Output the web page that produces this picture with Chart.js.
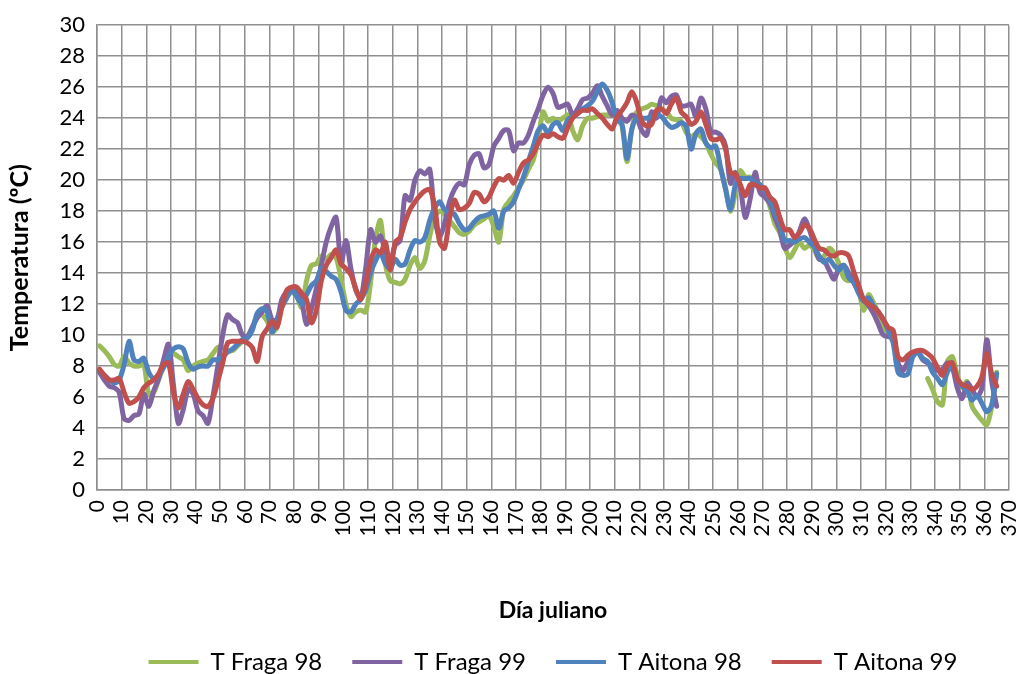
<!DOCTYPE html>
<html>
<head>
<meta charset="utf-8">
<script src="https://cdn.jsdelivr.net/npm/chart.js@4"></script>
<style>
  html, body { margin: 0; padding: 0; background: #ffffff; }
  #wrap { width: 1019px; height: 674px; }
</style>
</head>
<body>
<div id="wrap"><canvas id="tempChart" width="1019" height="674"></canvas></div>
<script>
// Día juliano (every second day)
const days = [
  1, 3, 5, 7, 9, 11, 13, 15, 17, 19,
  21, 23, 25, 27, 29, 31, 33, 35, 37, 39,
  41, 43, 45, 47, 49, 51, 53, 55, 57, 59,
  61, 63, 65, 67, 69, 71, 73, 75, 77, 79,
  81, 83, 85, 87, 89, 91, 93, 95, 97, 99,
  101, 103, 105, 107, 109, 111, 113, 115, 117, 119,
  121, 123, 125, 127, 129, 131, 133, 135, 137, 139,
  141, 143, 145, 147, 149, 151, 153, 155, 157, 159,
  161, 163, 165, 167, 169, 171, 173, 175, 177, 179,
  181, 183, 185, 187, 189, 191, 193, 195, 197, 199,
  201, 203, 205, 207, 209, 211, 213, 215, 217, 219,
  221, 223, 225, 227, 229, 231, 233, 235, 237, 239,
  241, 243, 245, 247, 249, 251, 253, 255, 257, 259,
  261, 263, 265, 267, 269, 271, 273, 275, 277, 279,
  281, 283, 285, 287, 289, 291, 293, 295, 297, 299,
  301, 303, 305, 307, 309, 311, 313, 315, 317, 319,
  321, 323, 325, 327, 329, 331, 333, 335, 337, 339,
  341, 343, 345, 347, 349, 351, 353, 355, 357, 359,
  361, 363, 365
];

const fraga98 = [
  9.3, 9.0, 8.6, 8.1, 8.0, 8.6, 8.2, 8.0, 8.0, 8.1,
  6.2, 6.3, 7.1, 8.0, 8.5, 8.8, 8.6, 8.4, 7.7, 8.0,
  8.2, 8.3, 8.4, 8.8, 9.2, 9.2, 9.0, 9.0, 9.3, 9.6,
  9.9, 10.5, 11.2, 11.3, 10.9, 10.2, 10.5, 12.2, 12.5, 12.75,
  12.5, 11.8, 13.5, 14.5, 14.6, 15.1, 14.9, 15.2, 15.0, 13.6,
  12.0, 11.2, 11.5, 11.6, 11.5, 13.4, 16.2, 17.4, 14.6, 13.5,
  13.4, 13.3, 13.6, 14.5, 15.0, 14.3, 14.8, 16.4, 17.6, 18.0,
  17.8, 17.4, 17.0, 16.6, 16.5, 16.7, 17.1, 17.3, 17.5, 17.7,
  17.0, 16.0, 18.1, 18.6, 19.0, 19.5, 20.0, 20.7, 21.3, 22.6,
  24.4, 23.8, 24.0, 23.8, 24.0, 24.2, 23.2, 22.6, 23.5, 24.0,
  24.0, 24.1, 24.2, 24.2, 24.3, 24.0, 23.5, 21.2, 23.3, 24.4,
  24.6, 24.7, 24.9, 24.8, 24.6, 24.4, 24.0, 23.9, 23.8, 23.1,
  22.8, 23.0, 22.8, 22.4, 21.7, 21.1, 20.7, 19.5, 18.0, 19.2,
  20.6, 20.2, 20.2, 20.0, 19.7, 19.2, 18.3, 17.2, 16.6, 15.7,
  15.0, 15.5, 16.0, 15.6, 15.8, 15.5, 14.9, 15.1, 15.6, 15.3,
  14.6, 13.7, 13.5, 13.8, 13.0, 11.6, 12.6, 12.1, 11.4, 10.6,
  10.1, 9.6, null, null, null, null, null, null, 7.2, 6.5,
  5.7, 5.5, 8.3, 8.6, 7.4, 6.6, 7.0, 5.4, 4.9, 4.5,
  4.2, 5.4, 7.6
];

const fraga99 = [
  7.6, 7.1, 6.7, 6.6, 6.3, 4.6, 4.5, 4.8, 4.9, 6.2,
  5.4, 6.4, 7.2, 8.4, 9.4, 6.8, 4.3, 5.2, 6.5, 6.2,
  5.1, 4.8, 4.3, 6.0, 8.0, 10.0, 11.3, 11.0, 10.8, 10.0,
  9.9, 10.5, 11.1, 11.5, 11.9, 11.0, 11.0, 12.3, 12.8, 13.0,
  12.8, 12.2, 10.7, 11.7, 13.0, 14.5, 16.0, 17.0, 17.6, 14.6,
  16.1, 14.3, 12.9, 12.4, 14.3, 16.8, 16.0, 16.4, 15.4, 14.8,
  15.8, 16.1, 19.0, 18.7, 20.0, 20.6, 20.4, 20.7, 17.6, 16.4,
  17.2, 18.6, 19.4, 19.8, 19.7, 21.0, 21.6, 21.7, 20.8, 21.0,
  22.2, 22.7, 23.2, 23.2, 21.9, 22.4, 22.4, 22.9, 23.8, 24.6,
  25.5, 26.0, 25.6, 24.7, 24.8, 24.9, 24.2, 24.6, 25.2, 25.3,
  25.6, 26.1, 25.4, 24.8, 24.2, 24.5, 24.0, 23.8, 24.2, 24.0,
  23.2, 22.9, 24.4, 24.0, 25.3, 25.0, 25.4, 25.5, 24.8, 24.8,
  24.9, 24.1, 25.3, 24.6, 23.1, 23.1, 22.9, 22.2, 19.8, 20.5,
  19.5, 17.6, 18.8, 20.5, 19.2, 18.9, 18.5, 17.6, 16.8, 15.6,
  15.8, 16.1, 16.7, 17.5, 16.8, 15.8, 14.9, 14.8, 14.2, 13.6,
  14.3, 14.5, 14.0, 13.4, 12.8, 12.3, 11.9, 11.4, 10.7, 10.0,
  9.9, 9.9, 8.2, 7.7, 8.3, 8.8, 8.9, 8.4, 8.2, 8.0,
  7.7, 7.8, 8.2, 7.9, 6.6, 5.9, 6.9, 6.5, 6.0, 6.6,
  9.7, 7.0, 5.4
];

const aitona98 = [
  7.7, 7.4, 7.1, 6.9, 7.1, 8.1, 9.6, 8.4, 8.3, 8.5,
  7.6, 7.2, 7.4, 7.9, 8.6, 9.1, 9.25, 9.1, 8.2, 7.8,
  7.95, 8.0, 8.0, 8.4, 8.4, 8.6, 8.9, 9.1, 9.4, 9.7,
  9.8, 10.3, 11.4, 11.7, 11.5, 10.2, 11.0, 11.8, 12.4, 12.9,
  12.5, 12.0, 12.6, 13.2, 13.5, 14.3, 14.1, 13.8, 13.6, 12.8,
  11.6, 11.5, 12.0, 12.3, 12.9, 14.0, 14.8, 15.3, 14.6, 14.3,
  14.9, 14.5, 14.6, 15.5, 16.1, 16.0, 16.3, 17.4, 18.2, 18.6,
  18.1, 17.9, 17.8, 17.2, 16.8, 16.9, 17.3, 17.6, 17.7, 17.8,
  18.0, 16.9, 18.0, 18.2, 18.6, 19.4, 20.2, 21.2, 22.2, 23.2,
  23.5, 23.0, 23.6, 23.7, 23.2, 23.9, 24.1, 24.3, 24.6, 24.8,
  25.1, 25.7, 26.2, 25.8, 25.0, 23.9, 23.6, 21.4, 23.3, 24.0,
  24.0, 24.0, 24.1, 24.2, 24.1, 23.7, 23.4, 23.5, 23.7, 23.5,
  22.0, 23.0, 23.3, 22.4, 22.1, 22.2, 20.8, 19.4, 18.1, 19.7,
  20.1, 20.1, 20.1, 19.8, 19.7, 19.3, 18.7, 17.9, 17.2, 16.1,
  16.1, 16.0, 16.2, 16.3, 16.0, 15.7, 15.1, 14.7, 14.9, 14.5,
  14.2, 14.5, 13.7, 13.4, 12.7, 12.2, 12.4, 11.9, 11.5, 11.0,
  10.3, 9.5, 7.6, 7.4, 7.5, 8.6, 8.9, 8.5, 8.3, 7.6,
  7.2, 6.8, 7.6, 8.1, 7.2, 6.7, 6.4, 5.8, 6.1, 5.6,
  5.05, 5.5, 7.5
];

const aitona99 = [
  7.8, 7.4, 7.1, 7.1, 7.2, 6.3, 5.6, 5.7, 6.0, 6.6,
  6.9, 7.1, 7.5, 8.1, 8.2, 6.3, 5.3, 6.2, 7.0, 6.5,
  5.9, 5.5, 5.4, 5.9, 7.0, 8.2, 9.5, 9.6, 9.6, 9.6,
  9.5, 9.2, 8.3, 9.9, 10.4, 10.9, 10.5, 11.8, 12.9, 13.1,
  13.1, 12.7, 12.3, 10.8, 11.6, 13.5, 14.5, 15.0, 15.5, 14.6,
  14.3, 13.9, 13.0, 12.3, 13.3, 14.8, 15.5, 15.3, 16.0, 14.2,
  16.0, 16.3, 17.3, 18.1, 18.6, 19.0, 19.3, 19.4, 18.3, 16.0,
  15.6, 17.5, 18.7, 18.1, 18.2, 18.5, 19.2, 19.1, 18.6, 18.9,
  19.6, 20.1, 20.0, 20.3, 19.8, 20.5, 21.1, 21.3, 21.7, 22.4,
  22.9, 22.8, 23.0, 22.8, 22.7, 23.4, 24.0, 24.3, 24.5, 24.5,
  24.6, 24.3, 24.0, 23.6, 23.3, 24.1, 24.5, 25.0, 25.7, 25.0,
  23.8, 23.5, 23.6, 24.5, 24.6, 24.3, 24.9, 25.3, 24.4, 24.1,
  23.6, 23.8, 24.4, 23.6, 22.7, 22.6, 22.7, 22.0, 20.5, 20.4,
  19.7, 19.0, 19.7, 19.7, 19.5, 19.5, 18.9, 18.6, 17.6, 16.8,
  16.8, 16.3, 16.6, 17.1, 16.9, 16.2, 15.6, 15.5, 15.2, 15.1,
  15.3, 15.3, 15.1, 14.1, 13.2, 12.3, 12.0, 11.8, 11.5, 11.0,
  10.5, 10.3, 8.6, 8.4, 8.7, 8.9, 9.0, 9.0, 8.8, 8.5,
  7.9, 7.4, 8.1, 8.2, 7.2, 6.8, 6.7, 6.5, 6.7, 7.3,
  8.8, 7.5, 6.7
];

const seriesLabels = ['T Fraga 98', 'T Fraga 99', 'T Aitona 98', 'T Aitona 99'];
const seriesColors = ['#9bbb59', '#8064a2', '#4f81bd', '#c0504d'];

function toPoints(values) {
  return days.map((d, i) => ({ x: d, y: values[i] }));
}

const gridColor = '#8f8f8f';
const fontFamily = 'Lato, "Open Sans", sans-serif';

// push the legend down to the foot of the picture
const legendNudge = {
  id: 'legendNudge',
  afterLayout(chart) {
    if (chart.legend) {
      chart.legend.top += 10;
      chart.legend.bottom += 10;
    }
  }
};

const ctx = document.getElementById('tempChart').getContext('2d');
new Chart(ctx, {
  type: 'line',
  data: {
    datasets: [fraga98, fraga99, aitona98, aitona99].map((vals, i) => ({
      label: seriesLabels[i],
      data: toPoints(vals),
      borderColor: seriesColors[i],
      backgroundColor: seriesColors[i],
      order: 3 - i   // red drawn on top, green at the bottom
    }))
  },
  options: {
    responsive: false,
    animation: false,
    spanGaps: false,
    elements: {
      point: { radius: 0 },
      line: { borderWidth: 5, tension: 0.3, borderCapStyle: 'round', borderJoinStyle: 'round' }
    },
    layout: { padding: { left: 0, right: 10, top: 22, bottom: 0 } },
    scales: {
      x: {
        type: 'linear',
        min: 0,
        max: 370,
        ticks: {
          stepSize: 10,
          autoSkip: false,
          maxRotation: 90,
          minRotation: 90,
          padding: 10,
          color: '#000',
          font: { family: fontFamily, size: 21 }
        },
        grid: { color: gridColor, lineWidth: 1.5, drawTicks: false },
        border: { color: gridColor, width: 1.5 },
        title: {
          display: true,
          text: 'Día juliano',
          color: '#000',
          font: { family: fontFamily, size: 23, weight: 'bold' },
          padding: { top: 0, bottom: -14 }
        },
        afterFit(scale) {
          scale.height = 120;
          scale.paddingLeft = 0;
          scale.paddingRight = 0;
        }
      },
      y: {
        min: 0,
        max: 30,
        ticks: {
          stepSize: 2,
          padding: 12,
          color: '#000',
          font: { family: fontFamily, size: 22 }
        },
        grid: { color: gridColor, lineWidth: 1.5, drawTicks: false },
        border: { color: gridColor, width: 1.5 },
        title: {
          display: true,
          text: 'Temperatura (ºC)',
          color: '#000',
          font: { family: fontFamily, size: 25, weight: 'bold' },
          padding: { top: 5, bottom: 0 }
        },
        afterFit(scale) { scale.width = 97; }
      }
    },
    plugins: {
      legend: {
        position: 'bottom',
        fullSize: false,
        labels: {
          boxWidth: 50,
          boxHeight: 4,
          padding: 30,
          color: '#000',
          font: { family: fontFamily, size: 24 },
          sort: (a, b) => a.datasetIndex - b.datasetIndex,
          generateLabels(chart) {
            const items = Chart.defaults.plugins.legend.labels.generateLabels(chart);
            items.forEach(it => { it.lineWidth = 0; });
            return items;
          }
        }
      },
      tooltip: { enabled: false }
    }
  },
  plugins: [legendNudge]
});
</script>
</body>
</html>
